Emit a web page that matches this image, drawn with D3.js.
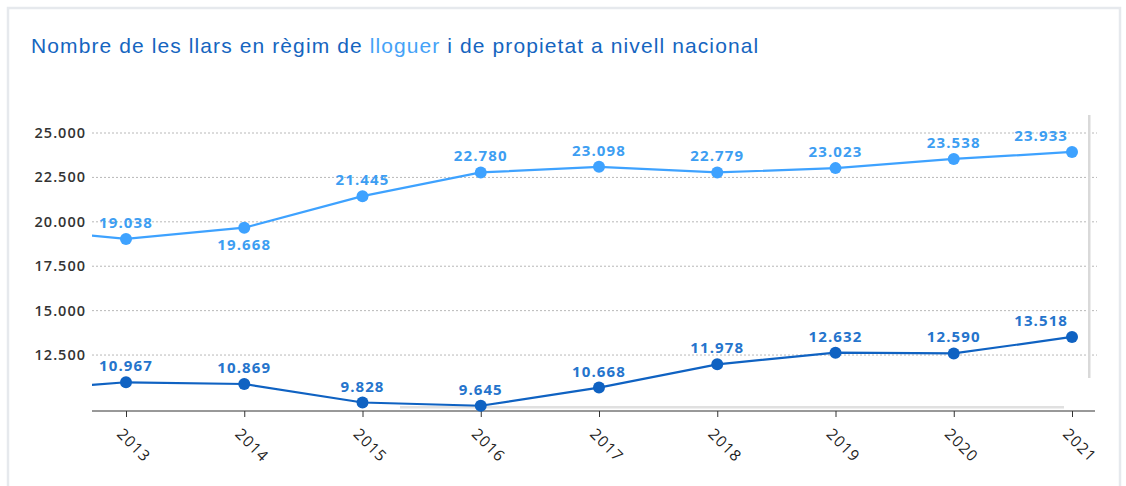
<!DOCTYPE html>
<html>
<head>
<meta charset="utf-8">
<script src="https://cdn.jsdelivr.net/npm/d3@7"></script>
<style>
  body { margin: 0; background: #fff; }
  svg { display: block; }
  .title { font-family: "Liberation Sans", Arial, sans-serif; font-size: 21px; letter-spacing: 1.1px; }
  .tick-y { font-family: "Open Sans", sans-serif; font-weight: 600; font-size: 14.5px; letter-spacing: 1px; fill: #333; }
  .tick-x { font-family: "Open Sans", sans-serif; font-size: 15.5px; letter-spacing: 1px; fill: #222; }
  .value-label { font-family: "Open Sans", sans-serif; font-weight: 700; font-size: 15px; letter-spacing: 1.1px; }
</style>
</head>
<body>
<script>
// years (2012 sits outside the visible window, the line is clipped at the left edge)
const years = [2012, 2013, 2014, 2015, 2016, 2017, 2018, 2019, 2020, 2021];
const lloguer = [19700, 19038, 19668, 21445, 22780, 23098, 22779, 23023, 23538, 23933];
const propietat = [10450, 10967, 10869, 9828, 9645, 10668, 11978, 12632, 12590, 13518];
const yTicks = [12500, 15000, 17500, 20000, 22500, 25000];
const xTicks = [2013, 2014, 2015, 2016, 2017, 2018, 2019, 2020, 2021];
// labels that go under the point instead of over it
const lloguerBelow = [2014];

document.addEventListener("DOMContentLoaded", () => {
  const width = 1126;
  const height = 486;

  const left = 92, right = 1095, top = 110, bottom = 411;

  const svg = d3.select('body')
    .append('svg')
    .attr('width', width)
    .attr('height', height);

  // card
  svg.append('rect')
    .attr('x', 8).attr('y', 8)
    .attr('width', 1112).attr('height', 500)
    .attr('fill', '#fff')
    .attr('stroke', '#e6e9ed')
    .attr('stroke-width', 2.5);

  const title = svg.append('text')
    .attr('class', 'title')
    .attr('x', 31)
    .attr('y', 53)
    .attr('fill', '#1565c0');
  title.append('tspan').text('Nombre de les llars en règim de ');
  title.append('tspan').attr('fill', '#45a2f7').text('lloguer');
  title.append('tspan').text(' i de propietat a nivell nacional');

  const x = d3.scaleLinear().domain([2013, 2021]).range([126, 1072]);
  const y = d3.scaleLinear().domain([9350, 25000]).range([bottom, 133]);

  // grid
  svg.append('g')
    .selectAll('line')
    .data(yTicks)
    .enter()
    .append('line')
    .attr('x1', left).attr('x2', 1097)
    .attr('y1', d => y(d)).attr('y2', d => y(d))
    .attr('stroke', '#b8b8b8')
    .attr('stroke-width', 1)
    .attr('stroke-dasharray', '2,2');

  svg.append('g')
    .selectAll('text')
    .data(yTicks)
    .enter()
    .append('text')
    .attr('class', 'tick-y')
    .attr('x', 86)
    .attr('y', d => y(d) + 5)
    .attr('text-anchor', 'end')
    .text(d => d3.format(',')(d).replace(/,/g, '.'));

  // scrollbar-ish bits
  svg.append('rect')
    .attr('x', 1088).attr('y', 115)
    .attr('width', 2.5).attr('height', 263)
    .attr('fill', '#d9d9d9');
  svg.append('rect')
    .attr('x', 400).attr('y', 406)
    .attr('width', 664).attr('height', 2.5)
    .attr('fill', '#e0e0e0');

  // x axis
  const xAxis = svg.append('g')
    .attr('transform', `translate(0,${bottom})`)
    .call(d3.axisBottom(x).tickValues(xTicks).tickSize(6).tickFormat(''));
  xAxis.select('.domain').attr('d', `M${left},0H${right}`).attr('stroke', '#333');
  xAxis.selectAll('.tick line').attr('stroke', '#333');

  svg.append('g')
    .selectAll('text')
    .data(xTicks)
    .enter()
    .append('text')
    .attr('class', 'tick-x')
    .attr('transform', d => `translate(${x(d) - 10},${bottom + 24}) rotate(45)`)
    .text(d => d);

  svg.append('clipPath')
    .attr('id', 'plot-clip')
    .append('rect')
    .attr('x', left).attr('y', top)
    .attr('width', right - left).attr('height', bottom - top + 10);

  const plot = svg.append('g').attr('clip-path', 'url(#plot-clip)');

  const series = [
    { values: lloguer, line: '#3ea2ff', label: '#3d9ef2', below: lloguerBelow },
    { values: propietat, line: '#0f62c2', label: '#2574cc', below: [] }
  ];

  series.forEach(s => {
    const pts = years.map((yr, i) => ({ year: yr, value: s.values[i] }));

    plot.append('path')
      .datum(pts)
      .attr('fill', 'none')
      .attr('stroke', s.line)
      .attr('stroke-width', 2.2)
      .attr('d', d3.line().x(d => x(d.year)).y(d => y(d.value)));

    const shown = pts.filter(d => d.year >= 2013);

    svg.append('g')
      .selectAll('circle')
      .data(shown)
      .enter()
      .append('circle')
      .attr('cx', d => x(d.year))
      .attr('cy', d => y(d.value))
      .attr('r', 6)
      .attr('fill', s.line);

    svg.append('g')
      .selectAll('text')
      .data(shown)
      .enter()
      .append('text')
      .attr('class', 'value-label')
      .attr('fill', s.label)
      .attr('x', d => d.year === 2021 ? x(d.year) - 4 : x(d.year))
      .attr('y', d => s.below.includes(d.year) ? y(d.value) + 22 : y(d.value) - 11)
      .attr('text-anchor', d => d.year === 2021 ? 'end' : 'middle')
      .text(d => d3.format(',')(d.value).replace(/,/g, '.'));
  });
});
</script>
</body>
</html>
